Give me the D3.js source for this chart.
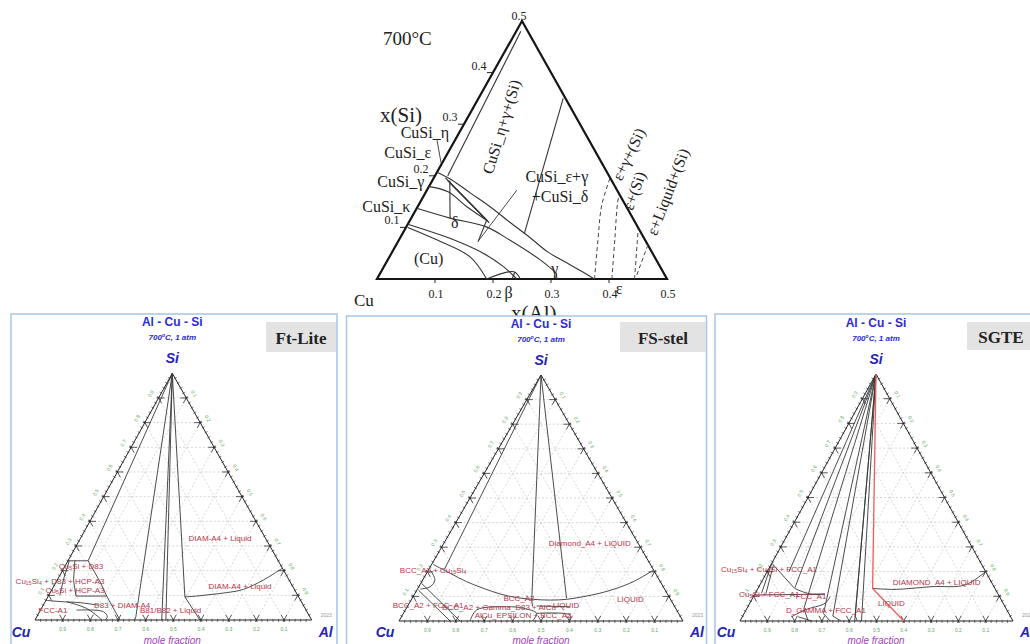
<!DOCTYPE html>
<html>
<head>
<meta charset="utf-8">
<script src="https://cdn.jsdelivr.net/npm/d3@7"></script>
<style>
  html, body { margin: 0; padding: 0; background: #fff; }
  svg { display: block; }
</style>
</head>
<body>
<script>
// ===================== Data =====================
// Upper section: Cu-rich corner of Al–Cu–Si at 700 °C, points are [x(Al), x(Si)]
const topAxisTicks = [0.1, 0.2, 0.3, 0.4, 0.5];

const topTieLines = [
  [[0.022, 0.200], [0.008, 0.480]],
  [[0.146, 0.350], [0.210, 0.088]],
  [[0.020, 0.196], [0.132, 0.114]],
  [[0.026, 0.191], [0.135, 0.112]],
  [[0.032, 0.187], [0.139, 0.109]],
  [[0.030, 0.191], [0.067, 0.118]],
  [[0.132, 0.114], [0.138, 0.072]],
  [[0.231, 0.013], [0.233, 0.000]],
  [[0.304, 0.011], [0.310, 0.000]]
];

const topCurves = [
  [[0.000, 0.207], [0.033, 0.192], [0.077, 0.167], [0.125, 0.140], [0.174, 0.110], [0.224, 0.080], [0.269, 0.052], [0.308, 0.033], [0.341, 0.017], [0.375, 0.000]],
  [[0.000, 0.179], [0.038, 0.169], [0.085, 0.140], [0.132, 0.114]],
  [[0.000, 0.137], [0.067, 0.118], [0.138, 0.101], [0.190, 0.076], [0.263, 0.037], [0.304, 0.011]],
  [[0.000, 0.106], [0.094, 0.076], [0.158, 0.050], [0.206, 0.024], [0.241, 0.000]],
  [[0.003, 0.100], [0.065, 0.076], [0.139, 0.043], [0.189, 0.000]],
  [[0.189, 0.000], [0.229, 0.014], [0.247, 0.000]]
];

const topDashed = [
  [[0.375, 0.000], [0.343, 0.076], [0.316, 0.143], [0.304, 0.196]],
  [[0.405, 0.000], [0.372, 0.076], [0.339, 0.153], [0.337, 0.163]],
  [[0.444, 0.000], [0.411, 0.076], [0.401, 0.099]],
  [[0.444, 0.008], [0.434, 0.066]]
];

const topPointers = [
  [[-0.031, 0.269], [-0.002, 0.225]],
  [[0.138, 0.074], [0.155, 0.172]]
];

const topLabels = [
  { t: "CuSi_η", a: -0.059, s: 0.283 },
  { t: "CuSi_ε", a: -0.070, s: 0.246 },
  { t: "CuSi_γ", a: -0.053, s: 0.188 },
  { t: "CuSi_κ", a: -0.054, s: 0.140 },
  { t: "(Cu)", a: 0.069, s: 0.040 },
  { t: "δ", a: 0.079, s: 0.110 },
  { t: "γ", a: 0.296, s: 0.021 },
  { t: "β", a: 0.240, s: -0.026 },
  { t: "ε", a: 0.427, s: -0.019 },
  { t: "CuSi_ε+γ", a: 0.211, s: 0.198 },
  { t: "+CuSi_δ", a: 0.236, s: 0.159 }
];

const topRotatedLabels = [
  { t: "CuSi_η+γ+(Si)", a: 0.067, s: 0.295, angle: -73 },
  { t: "ε+γ+(Si)", a: 0.313, s: 0.242, angle: -64 },
  { t: "ε+(Si)", a: 0.358, s: 0.171, angle: -70 },
  { t: "ε+Liquid+(Si)", a: 0.417, s: 0.169, angle: -69 }
];

// Lower panels: full composition triangle, points are [x(Al), x(Si)]
const gridValues = [0.1, 0.2, 0.3, 0.4, 0.5, 0.6, 0.7, 0.8, 0.9];

const ftLines = [
  [[0, 1], [0.073, 0.240]],
  [[0, 1], [0.358, 0.013], [0.360, 0]],
  [[0, 1], [0.458, 0]],
  [[0, 1], [0.473, 0]],
  [[0, 1], [0.495, 0.094], [0.596, 0]],
  [[0, 0.240], [0.073, 0.240]],
  [[0.073, 0.240], [0.158, 0.155], [0.211, 0.097], [0.307, 0]],
  [[0.100, 0.097], [0.211, 0.097]],
  [[0.025, 0.240], [0.060, 0.160], [0.100, 0.097]],
  [[0.005, 0.240], [0.020, 0.170], [0.040, 0.100]]
];
const ftCurves = [
  [[0.495, 0.094], [0.536, 0.097], [0.581, 0.103], [0.638, 0.111], [0.691, 0.124], [0.745, 0.162], [0.790, 0.210]],
  [[0.078, 0.074], [0.163, 0.047], [0.222, 0.013], [0.241, 0]],
  [[0.130, 0.040], [0.230, 0.034], [0.255, 0.013], [0.253, 0]],
  [[0, 0.080], [0.050, 0.075], [0.130, 0.070], [0.200, 0.060]]
];
const ftLabels = [
  { t: "DIAM-A4 + Liquid", a: 0.504, s: 0.332 },
  { t: "DIAM-A4 + Liquid", a: 0.674, s: 0.135 },
  { t: "Cu₅Si + D83", a: 0.059, s: 0.216 },
  { t: "Cu₁₅Si₄ + D83 + HCP-A3", a: 0.012, s: 0.158 },
  { t: "Cu₅Si + HCP-A3", a: 0.086, s: 0.119 },
  { t: "FCC-A1", a: 0.046, s: 0.038 },
  { t: "D83 + DIAM-A4", a: 0.286, s: 0.058 },
  { t: "B81/B82 + Liquid", a: 0.471, s: 0.038 }
];

const fsLines = [
  [[0, 1], [0.055, 0.210]],
  [[0, 1], [0.425, 0.085], [0.440, 0.060]],
  [[0, 1], [0.544, 0.092]],
  [[0.003, 0.153], [0.215, 0]],
  [[0.005, 0.126], [0.180, 0]],
  [[0.454, 0.061], [0.573, 0.058]]
];
const fsCurves = [
  [[0.0055, 0.230], [0.083, 0.194], [0.158, 0.160], [0.230, 0.133], [0.301, 0.110], [0.367, 0.095], [0.429, 0.088], [0.489, 0.085], [0.546, 0.088], [0.600, 0.099], [0.651, 0.113], [0.700, 0.133], [0.745, 0.160], [0.793, 0.207]],
  [[0.006, 0.207], [0.043, 0.167], [0.040, 0.139], [0.010, 0.130]],
  [[0.250, 0], [0.251, 0.045], [0.350, 0.058], [0.412, 0.052], [0.469, 0.031], [0.470, 0]],
  [[0.469, 0.031], [0.590, 0.024], [0.600, 0]]
];
const fsLabels = [
  { t: "Diamond_A4 + LIQUID", a: 0.514, s: 0.316 },
  { t: "BCC_A2 + Cu₁₅Si₄", a: 0.018, s: 0.205 },
  { t: "BCC_A2", a: 0.377, s: 0.091 },
  { t: "BCC_A2 + FCC_A1", a: 0.072, s: 0.061 },
  { t: "BCC_A2 + Gamma_D83 + AlCu", a: 0.324, s: 0.056 },
  { t: "LIQUID", a: 0.557, s: 0.062 },
  { t: "LIQUID", a: 0.771, s: 0.088 },
  { t: "AlCu_EPSILON + BCC_A2", a: 0.426, s: 0.022 }
];

const sgLines = [
  [[0, 1], [0.080, 0.200]],
  [[0, 1], [0.134, 0.135]],
  [[0, 1], [0.209, 0.050], [0.250, 0]],
  [[0, 1], [0.291, 0.030], [0.330, 0]],
  [[0, 1], [0.330, 0.020], [0.370, 0]],
  [[0, 1], [0.420, 0]],
  [[0, 1], [0.412, 0.020], [0.430, 0]],
  [[0, 1], [0.445, 0]],
  [[0, 0.234], [0.134, 0.132]],
  [[0, 0.234], [0.023, 0.112]],
  [[0.010, 0.225], [0.040, 0.110]],
  [[0, 0.105], [0.257, 0.109]],
  [[0.205, 0.017], [0.263, 0]]
];
const sgCurves = [
  [[0.420, 0.132], [0.504, 0.128], [0.633, 0.139], [0.752, 0.146], [0.800, 0.200]],
  [[0.134, 0.132], [0.200, 0.110], [0.257, 0.109]],
  [[0.180, 0.017], [0.216, 0.045], [0.276, 0.072], [0.281, 0.098]]
];
const sgRedLines = [
  [[0, 1], [0.420, 0.132], [0.600, 0]]
];
const sgLabels = [
  { t: "Cu₁₅Si₄ + Cu₅Si + FCC_A1", a: 0.003, s: 0.207 },
  { t: "Cu₅Si + FCC_A1", a: 0.053, s: 0.109 },
  { t: "FCC_A1", a: 0.210, s: 0.101 },
  { t: "D_GAMMA + FCC_A1", a: 0.294, s: 0.042 },
  { t: "DIAMOND_A4 + LIQUID", a: 0.642, s: 0.157 },
  { t: "LIQUID", a: 0.520, s: 0.069 }
];

// ===================== Drawing =====================
const SERIF = "'Liberation Serif', 'Times New Roman', serif";
const SANS = "'Liberation Sans', Arial, 'DejaVu Sans', sans-serif";

const svg = d3.select("body").append("svg")
  .attr("width", 1030).attr("height", 644)
  .style("font-family", SANS);

const straight = d3.line();
const smooth = d3.line().curve(d3.curveCatmullRom.alpha(0.5));

// ---------- upper section ----------
const topG = svg.append("g");
const tAx = d3.scaleLinear().domain([0, 0.5]).range([377, 667]);
const tSx = d3.scaleLinear().domain([0, 0.5]).range([0, 145]);
const tSy = d3.scaleLinear().domain([0, 0.5]).range([279, 21]);
const tp = ([a, s]) => [tAx(a) + tSx(s), tSy(s)];

topG.append("path")
  .attr("d", straight([[0, 0], [0.5, 0], [0, 0.5]].map(tp)) + "Z")
  .attr("fill", "none").attr("stroke", "#151515").attr("stroke-width", 2.2)
  .attr("stroke-linejoin", "miter");

// axis ticks and labels
topAxisTicks.filter(v => v < 0.5).forEach(v => {
  const [x, y] = tp([0, v]);
  topG.append("line").attr("x1", x).attr("y1", y).attr("x2", x - 6).attr("y2", y)
    .attr("stroke", "#222").attr("stroke-width", 1);
  topG.append("text").attr("x", x - 14).attr("y", y - 7)
    .attr("text-anchor", "middle").attr("dominant-baseline", "central")
    .attr("font-family", SERIF).attr("font-size", 12).attr("fill", "#222")
    .text(v.toFixed(1));
  const [bx, by] = tp([v, 0]);
  topG.append("line").attr("x1", bx).attr("y1", by).attr("x2", bx).attr("y2", by + 4)
    .attr("stroke", "#222").attr("stroke-width", 1);
});
topAxisTicks.forEach(v => {
  const [bx, by] = tp([v, 0]);
  topG.append("text").attr("x", bx + 1).attr("y", by + 15)
    .attr("text-anchor", "middle").attr("dominant-baseline", "central")
    .attr("font-family", SERIF).attr("font-size", 12).attr("fill", "#222")
    .text(v.toFixed(1));
});
{
  const [ax, ay] = tp([0, 0.5]);
  topG.append("text").attr("x", ax - 3).attr("y", ay - 5)
    .attr("text-anchor", "middle").attr("dominant-baseline", "central")
    .attr("font-family", SERIF).attr("font-size", 12).attr("fill", "#222")
    .text("0.5");
}

topTieLines.forEach(l => topG.append("path").attr("d", straight(l.map(tp)))
  .attr("fill", "none").attr("stroke", "#333").attr("stroke-width", 1.1));
topCurves.forEach(l => topG.append("path").attr("d", smooth(l.map(tp)))
  .attr("fill", "none").attr("stroke", "#333").attr("stroke-width", 1.1));
topDashed.forEach(l => topG.append("path").attr("d", smooth(l.map(tp)))
  .attr("fill", "none").attr("stroke", "#444").attr("stroke-width", 1)
  .attr("stroke-dasharray", "4,3"));
topPointers.forEach(l => topG.append("path").attr("d", straight(l.map(tp)))
  .attr("fill", "none").attr("stroke", "#333").attr("stroke-width", 0.9));

topLabels.forEach(d => {
  const [x, y] = tp([d.a, d.s]);
  topG.append("text").attr("x", x).attr("y", y)
    .attr("text-anchor", "middle").attr("dominant-baseline", "central")
    .attr("font-family", SERIF).attr("font-size", 16).attr("fill", "#222")
    .text(d.t);
});
topRotatedLabels.forEach(d => {
  const [x, y] = tp([d.a, d.s]);
  topG.append("text").attr("transform", `translate(${x},${y}) rotate(${d.angle})`)
    .attr("text-anchor", "middle").attr("dominant-baseline", "central")
    .attr("font-family", SERIF).attr("font-size", 16).attr("fill", "#222")
    .text(d.t);
});

topG.append("text").attr("x", 383).attr("y", 45)
  .attr("font-family", SERIF).attr("font-size", 19).attr("fill", "#222").text("700°C");
topG.append("text").attr("x", 380).attr("y", 122)
  .attr("font-family", SERIF).attr("font-size", 21).attr("fill", "#222").text("x(Si)");
topG.append("text").attr("x", 354).attr("y", 306)
  .attr("font-family", SERIF).attr("font-size", 17).attr("fill", "#222").text("Cu");
topG.append("text").attr("x", 511).attr("y", 320)
  .attr("font-family", SERIF).attr("font-size", 21).attr("fill", "#222").text("x(Al)");

// ---------- lower panels ----------
const panels = [
  { name: "Ft-Lite", frame: [11, 314, 326, 340], cu: [35, 620], al: [311.7, 620], si: [172.3, 373.3],
    box: [266, 322, 70, 30], lines: ftLines, curves: ftCurves, red: [], labels: ftLabels },
  { name: "FS-stel", frame: [346.5, 316, 360, 340], cu: [399, 621], al: [683, 621], si: [541, 375],
    box: [620, 322, 86, 30], lines: fsLines, curves: fsCurves, red: [], labels: fsLabels },
  { name: "SGTE", frame: [715, 314, 330, 340], cu: [740, 621], al: [1013, 621], si: [876, 374],
    box: [967, 322, 68, 28], lines: sgLines, curves: sgCurves, red: sgRedLines, labels: sgLabels }
];

function drawPanel(p) {
  const g = svg.append("g");
  const ax = d3.scaleLinear().domain([0, 1]).range([p.cu[0], p.al[0]]);
  const sx = d3.scaleLinear().domain([0, 1]).range([0, p.si[0] - p.cu[0]]);
  const sy = d3.scaleLinear().domain([0, 1]).range([p.cu[1], p.si[1]]);
  const P = ([a, s]) => [ax(a) + sx(s), sy(s)];

  g.append("rect").attr("x", p.frame[0]).attr("y", p.frame[1])
    .attr("width", p.frame[2]).attr("height", p.frame[3])
    .attr("fill", "#fff").attr("stroke", "#a8c5e4").attr("stroke-width", 1.5);

  // dashed composition grid
  gridValues.forEach(v => {
    [[[0, v], [1 - v, v]], [[v, 0], [v, 1 - v]], [[1 - v, 0], [0, 1 - v]]].forEach(seg => {
      g.append("path").attr("d", straight(seg.map(P)))
        .attr("fill", "none").attr("stroke", "#cdcdcd").attr("stroke-width", 0.8)
        .attr("stroke-dasharray", "2,2");
    });
  });

  // edges: left Cu→Si, right Si→Al, base Al→Cu
  const edges = [
    { at: t => [0, t], inward: [[1, 0], [1, -1]] },
    { at: t => [t, 1 - t], inward: [[0, -1], [-1, 0]] },
    { at: t => [1 - t, 0], inward: [[0, 1], [-1, 1]] }
  ];
  edges.forEach((e, i) => {
    const p0 = P(e.at(0)), p1 = P(e.at(1));
    const dx = p1[0] - p0[0], dy = p1[1] - p0[1], len = Math.hypot(dx, dy);
    const n = [dy / len, -dx / len];          // outward normal
    const ang = Math.atan2(dy, dx) * 180 / Math.PI;
    d3.range(1, 50).map(k => k / 50).forEach(t => {
      const [x, y] = P(e.at(t));
      g.append("line").attr("x1", x - n[0] * 1.2).attr("y1", y - n[1] * 1.2)
        .attr("x2", x + n[0] * 2).attr("y2", y + n[1] * 2)
        .attr("stroke", "#333").attr("stroke-width", 0.6);
    });
    gridValues.forEach(t => {
      const pt = e.at(t);
      const [x, y] = P(pt);
      e.inward.forEach(dir => {
        const q = P([pt[0] + dir[0] * 0.02, pt[1] + dir[1] * 0.02]);
        const ux = q[0] - x, uy = q[1] - y, ul = Math.hypot(ux, uy);
        g.append("line").attr("x1", x - ux / ul * 2).attr("y1", y - uy / ul * 2)
          .attr("x2", x + ux / ul * 6).attr("y2", y + uy / ul * 6)
          .attr("stroke", "#333").attr("stroke-width", 0.8);
      });
      const lx = x + n[0] * 9, ly = y + n[1] * 9;
      const rot = i === 2 ? 0 : (i === 1 ? ang : ang);
      g.append("text").attr("transform", `translate(${lx},${ly}) rotate(${rot})`)
        .attr("text-anchor", "middle").attr("dominant-baseline", "central")
        .attr("font-size", 5).attr("fill", "#62a862")
        .text(t.toFixed(1));
    });
  });

  // triangle outline
  g.append("path").attr("d", straight([[0, 0], [1, 0], [0, 1]].map(P)) + "Z")
    .attr("fill", "none").attr("stroke", "#222").attr("stroke-width", 1);

  // phase boundaries
  p.lines.forEach(l => g.append("path").attr("d", straight(l.map(P)))
    .attr("fill", "none").attr("stroke", "#383838").attr("stroke-width", 0.9));
  p.curves.forEach(l => g.append("path").attr("d", smooth(l.map(P)))
    .attr("fill", "none").attr("stroke", "#383838").attr("stroke-width", 0.9));
  p.red.forEach(l => g.append("path").attr("d", straight(l.map(P)))
    .attr("fill", "none").attr("stroke", "#ef5a5a").attr("stroke-width", 1.3));

  // region labels
  p.labels.forEach(d => {
    const [x, y] = P([d.a, d.s]);
    g.append("text").attr("x", x).attr("y", y)
      .attr("text-anchor", "middle").attr("dominant-baseline", "central")
      .attr("font-size", 8).attr("fill", "#b5364a")
      .text(d.t);
  });

  // headings and corner names
  const cx = p.si[0];
  g.append("text").attr("x", cx).attr("y", p.si[1] - 47).attr("text-anchor", "middle")
    .attr("font-size", 12).attr("font-weight", "bold").attr("fill", "#2b2bd6").text("Al - Cu - Si");
  const sub = g.append("text").attr("x", cx).attr("y", p.si[1] - 33).attr("text-anchor", "middle")
    .attr("font-size", 8).attr("font-weight", "bold").attr("font-style", "italic").attr("fill", "#2b2bd6");
  sub.append("tspan").text("700");
  sub.append("tspan").attr("dy", -3).attr("font-size", 5).text("o");
  sub.append("tspan").attr("dy", 3).text("C, 1 atm");
  g.append("text").attr("x", cx).attr("y", p.si[1] - 10).attr("text-anchor", "middle")
    .attr("font-size", 14).attr("font-weight", "bold").attr("font-style", "italic").attr("fill", "#2424b8").text("Si");
  g.append("text").attr("x", p.cu[0] - 14).attr("y", 637).attr("text-anchor", "middle")
    .attr("font-size", 14).attr("font-weight", "bold").attr("font-style", "italic").attr("fill", "#2424b8").text("Cu");
  g.append("text").attr("x", p.al[0] + 14).attr("y", 637).attr("text-anchor", "middle")
    .attr("font-size", 14).attr("font-weight", "bold").attr("font-style", "italic").attr("fill", "#2424b8").text("Al");
  g.append("text").attr("x", cx).attr("y", 643.5).attr("text-anchor", "middle")
    .attr("font-size", 10).attr("font-style", "italic").attr("fill", "#a23fc4").text("mole fraction");
  g.append("text").attr("x", p.al[0] + 9).attr("y", 617)
    .attr("font-size", 5).attr("fill", "#999").text("2023");

  // database tag
  g.append("rect").attr("x", p.box[0]).attr("y", p.box[1]).attr("width", p.box[2]).attr("height", p.box[3])
    .attr("fill", "#e3e3e3");
  g.append("text").attr("x", p.box[0] + p.box[2] / 2).attr("y", p.box[1] + p.box[3] / 2 + 1)
    .attr("text-anchor", "middle").attr("dominant-baseline", "central")
    .attr("font-family", SERIF).attr("font-weight", "bold").attr("font-size", 17).attr("fill", "#222")
    .text(p.name);
}

panels.forEach(drawPanel);
</script>
</body>
</html>
